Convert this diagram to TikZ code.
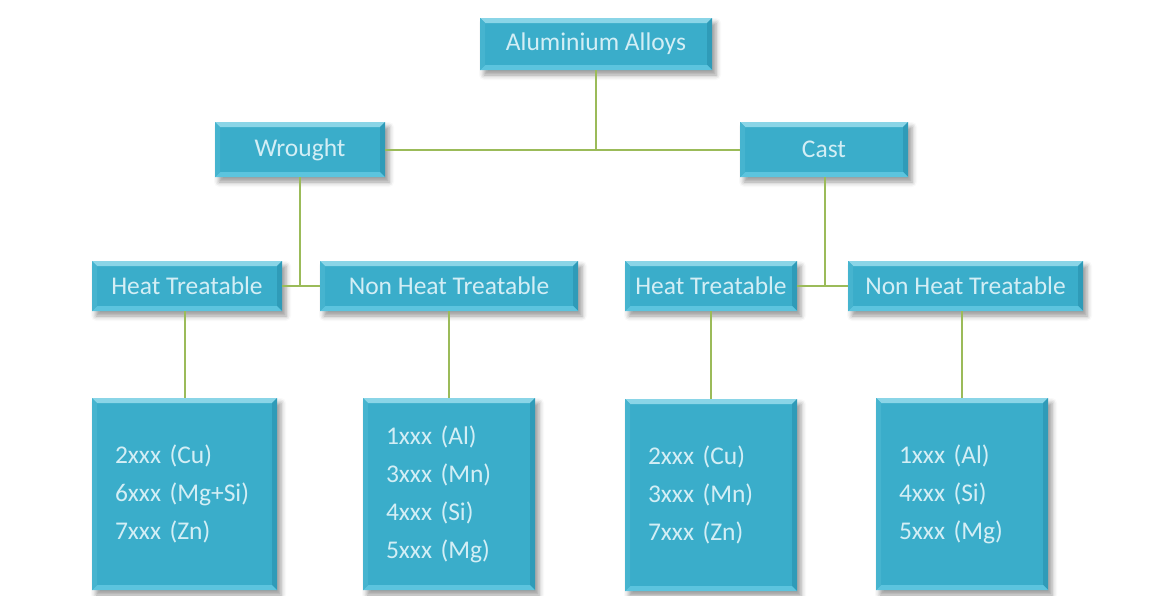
\documentclass[tikz,border=0pt]{standalone}
\usepackage{fontspec}
\setmainfont{Carlito}
\usetikzlibrary{shadows.blur}
\definecolor{boxblue}{HTML}{3AADCA}
\definecolor{bevtop}{HTML}{8AD5E7}
\definecolor{bevbottom}{HTML}{5CC4DE}
\definecolor{bevleft}{HTML}{46B4CF}
\definecolor{bevright}{HTML}{2F9BB8}
\definecolor{boxtext}{HTML}{D3EEF5}
\definecolor{linkgreen}{HTML}{9BBB59}
\tikzset{
    box/.style={rectangle, fill=boxblue, text=boxtext, inner sep=0pt,
        font=\fontsize{25.5}{38}\selectfont,
        blur shadow={shadow xshift=4pt, shadow yshift=-5pt, shadow blur radius=5pt, shadow opacity=40},
        path picture={
            \coordinate (pa) at (path picture bounding box.north west);
            \coordinate (pb) at (path picture bounding box.north east);
            \coordinate (pc) at (path picture bounding box.south east);
            \coordinate (pd) at (path picture bounding box.south west);
            \fill[bevtop] (pa) -- (pb) -- ([shift={(-5pt,-5pt)}]pb) -- ([shift={(5pt,-5pt)}]pa) -- cycle;
            \fill[bevright] (pb) -- (pc) -- ([shift={(-5pt,5pt)}]pc) -- ([shift={(-5pt,-5pt)}]pb) -- cycle;
            \fill[bevbottom] (pc) -- (pd) -- ([shift={(5pt,5pt)}]pd) -- ([shift={(-5pt,5pt)}]pc) -- cycle;
            \fill[bevleft] (pd) -- (pa) -- ([shift={(5pt,-5pt)}]pa) -- ([shift={(5pt,5pt)}]pd) -- cycle;
        }},
    head/.style={box, minimum height=55pt},
    kind/.style={box, minimum height=50pt},
    list/.style={box, align=left, text width=#1, inner xsep=23pt, minimum height=192pt},
    link/.style={draw=linkgreen, line width=2pt}
}

\begin{document}
\begin{tikzpicture}[x=1pt, y=-1pt]
    \useasboundingbox (0,0) rectangle (1164,595);
    \coordinate (jw) at (300,286);
    \coordinate (jc) at (825,286);
    \node[box, minimum width=232pt, minimum height=52pt] (alloys) at (596,44) {Aluminium Alloys};
    \node[head, minimum width=170pt] (wrought) at (300,149.5) {Wrought};
    \node[head, minimum width=168pt] (cast) at (824,149.5) {Cast};
    \node[kind, minimum width=190pt] (wht) at (187,286) {Heat Treatable};
    \node[kind, minimum width=258pt] (wnht) at (449,286) {Non Heat Treatable};
    \node[kind, minimum width=172pt] (cht) at (711,286) {Heat Treatable};
    \node[kind, minimum width=235pt] (cnht) at (965.5,286) {Non Heat Treatable};
    \node[list=139pt] (wlist) at (184.5,494) {2xxx (Cu)\\6xxx (Mg+Si)\\7xxx (Zn)};
    \node[list=126pt] (wnlist) at (449,494) {1xxx (Al)\\3xxx (Mn)\\4xxx (Si)\\5xxx (Mg)};
    \node[list=126pt] (clist) at (711,495) {2xxx (Cu)\\3xxx (Mn)\\7xxx (Zn)};
    \node[list=126pt] (cnlist) at (962,494) {1xxx (Al)\\4xxx (Si)\\5xxx (Mg)};
    % links only touch the box edges
    \draw[link] (alloys.south) -- (alloys.south |- wrought.east);
    \draw[link] (wrought.east) -- (cast.west);
    \draw[link] (wrought.south) -- (jw);
    \draw[link] (wht.east) -- (wnht.west);
    \draw[link] (cast.south -| jc) -- (jc);
    \draw[link] (cht.east) -- (cnht.west);
    \draw[link] (wlist.north |- wht.south) -- (wlist.north);
    \draw[link] (wnlist.north |- wnht.south) -- (wnlist.north);
    \draw[link] (clist.north |- cht.south) -- (clist.north);
    \draw[link] (cnlist.north |- cnht.south) -- (cnlist.north);
\end{tikzpicture}
\end{document}
